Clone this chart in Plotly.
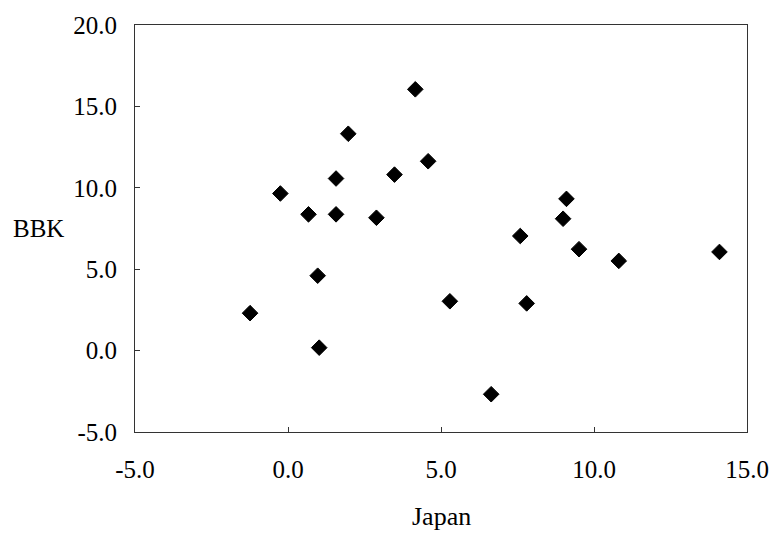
import plotly.graph_objects as go

japan = [-1.24, -0.25, 0.67, 0.97, 1.02, 1.57, 1.57, 1.97, 2.89, 3.48, 4.16,
         4.58, 5.29, 6.64, 7.59, 7.80, 8.99, 9.10, 9.51, 10.81, 14.10]
bbk = [2.30, 9.65, 8.37, 4.60, 0.18, 8.37, 10.57, 13.32, 8.16, 10.81, 16.05,
       11.63, 3.03, -2.68, 7.04, 2.90, 8.10, 9.32, 6.23, 5.51, 6.06]

x_ticks = [-5, 0, 5, 10, 15]
x_labels = ["-5.0", "0.0", "5.0", "10.0", "15.0"]
y_ticks = [-5, 0, 5, 10, 15, 20]
y_labels = ["-5.0", "0.0", "5.0", "10.0", "15.0", "20.0"]

font_family = "Liberation Serif"

fig = go.Figure()
fig.add_trace(go.Scatter(
    x=japan, y=bbk, mode="markers",
    marker=dict(symbol="diamond", size=12, color="black",
                line=dict(color="black", width=1)),
    showlegend=False,
))

axis_common = dict(
    showline=True, mirror=True, linecolor="#333", linewidth=1,
    showgrid=False, zeroline=False, ticks="inside", ticklen=5,
    tickcolor="#333",
    tickfont=dict(family=font_family, size=25, color="black"),
)

fig.update_xaxes(range=[-5, 15], tickvals=x_ticks, ticktext=x_labels,
                 ticklabelstandoff=15, **axis_common)
fig.update_yaxes(range=[-5, 20], tickvals=y_ticks, ticktext=y_labels,
                 ticklabelstandoff=12, **axis_common)

fig.add_annotation(text="Japan", xref="paper", yref="paper", x=0.5, y=0,
                   yshift=-84, showarrow=False, yanchor="middle",
                   font=dict(family=font_family, size=26, color="black"))
fig.add_annotation(text="BBK", xref="paper", yref="paper", x=0, y=0.5,
                   xshift=-97, showarrow=False, xanchor="center",
                   yanchor="middle",
                   font=dict(family=font_family, size=25, color="black"))

fig.update_layout(
    width=781, height=538,
    margin=dict(l=135, r=29, t=23, b=106),
    paper_bgcolor="white", plot_bgcolor="white",
)

fig.write_html("out.html")
